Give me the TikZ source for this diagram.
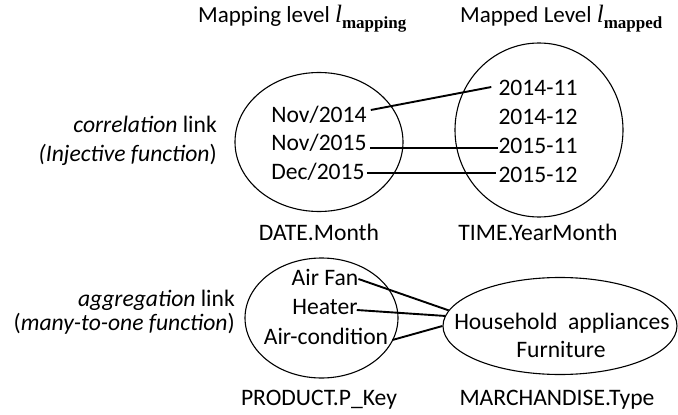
\documentclass[tikz,border=0pt]{standalone}
\usepackage{fontspec}
\setmainfont{Carlito}
\newfontfamily\tnr{Liberation Serif}
\usetikzlibrary{shapes.geometric}
\begin{document}
\begin{tikzpicture}[x=1pt,y=-1pt,
  txt/.style={font=\fontsize{23.6}{28}\selectfont, inner sep=0pt, anchor=base},
  hdr/.style={font=\fontsize{23}{28}\selectfont, inner sep=0pt, anchor=base west},
  set/.style={draw, ellipse, line width=1.1pt, inner sep=0pt},
  link/.style={line width=1.9pt}]
\useasboundingbox (0,0) rectangle (678,415);
% headers
\node[hdr] (h1) at (198,22) {Mapping level {\tnr\itshape\fontsize{25}{28}\selectfont l}\raisebox{-6pt}{\fontsize{17}{17}\selectfont\tnr\bfseries mapping}};
\node[hdr] (h2) at (460,22) {Mapped Level {\tnr\itshape\fontsize{25}{28}\selectfont l}\raisebox{-6pt}{\fontsize{17}{17}\selectfont\tnr\bfseries mapped}};
% sets
\node[set, minimum width=168pt, minimum height=139pt] (e1) at (319,142) {};
\node[set, minimum width=168pt, minimum height=174pt] (e2) at (539,130) {};
\node[set, minimum width=153pt, minimum height=120pt] (e3) at (321.5,318) {};
\node[set, minimum width=234pt, minimum height=97pt] (e4) at (560,326) {};
% left labels
\node[txt, anchor=base east] (cl) at (217,132) {{\itshape correlation} link};
\node[txt, anchor=base east] (ij) at (217,161) {{\itshape (Injective function})};
\node[txt, anchor=base east] (al) at (235,306) {{\itshape aggregation} link};
\node[txt, anchor=base east] (mo) at (235,330) {({\itshape many-to-one function})};
% top items
\node[txt] (n14) at (319,122.5) {Nov/2014};
\node[txt] (n15) at (319,150.5) {Nov/2015};
\node[txt] (d15) at (318,179.5) {Dec/2015};
\node[txt] (y1411) at (538,95.5) {2014-11};
\node[txt] (y1412) at (538,124.5) {2014-12};
\node[txt] (y1511) at (538,153.5) {2015-11};
\node[txt] (y1512) at (538,182.5) {2015-12};
\node[txt] (lab1) at (319,240.5) {DATE.Month};
\node[txt] (lab2) at (538,240.5) {TIME.YearMonth};
% bottom items
\node[txt] (af) at (325,285.5) {Air Fan};
\node[txt] (ht) at (325,314.5) {Heater};
\node[txt] (ac) at (326,344.5) {Air-condition};
\node[txt] (hh) at (562,329.5) {Household\ \ appliances};
\node[txt] (fu) at (561,357.5) {Furniture};
\node[txt] (pk) at (319,405) {PRODUCT.P\_Key};
\node[txt] (mt) at (557,405) {MARCHANDISE.Type};
% connectors
\draw[link] ([xshift=4pt,yshift=12.5pt]n14.base east) -- ([xshift=-7pt,yshift=8.5pt]y1411.base west);
\draw[link] ([xshift=3pt,yshift=2.5pt]n15.base east) -- ([yshift=5.5pt]y1511.base west);
\draw[link] ([xshift=2pt,yshift=6.5pt]d15.base east) -- ([xshift=-2pt,yshift=9.5pt]y1512.base west);
\draw[link] ([xshift=0pt,yshift=6.5pt]af.base east) -- (e4.172);
\draw[link] ([xshift=-1pt,yshift=4.5pt]ht.base east) -- (e4.175);
\draw[link] ([xshift=4pt,yshift=4.5pt]ac.base east) -- (e4.180);
\end{tikzpicture}
\end{document}
